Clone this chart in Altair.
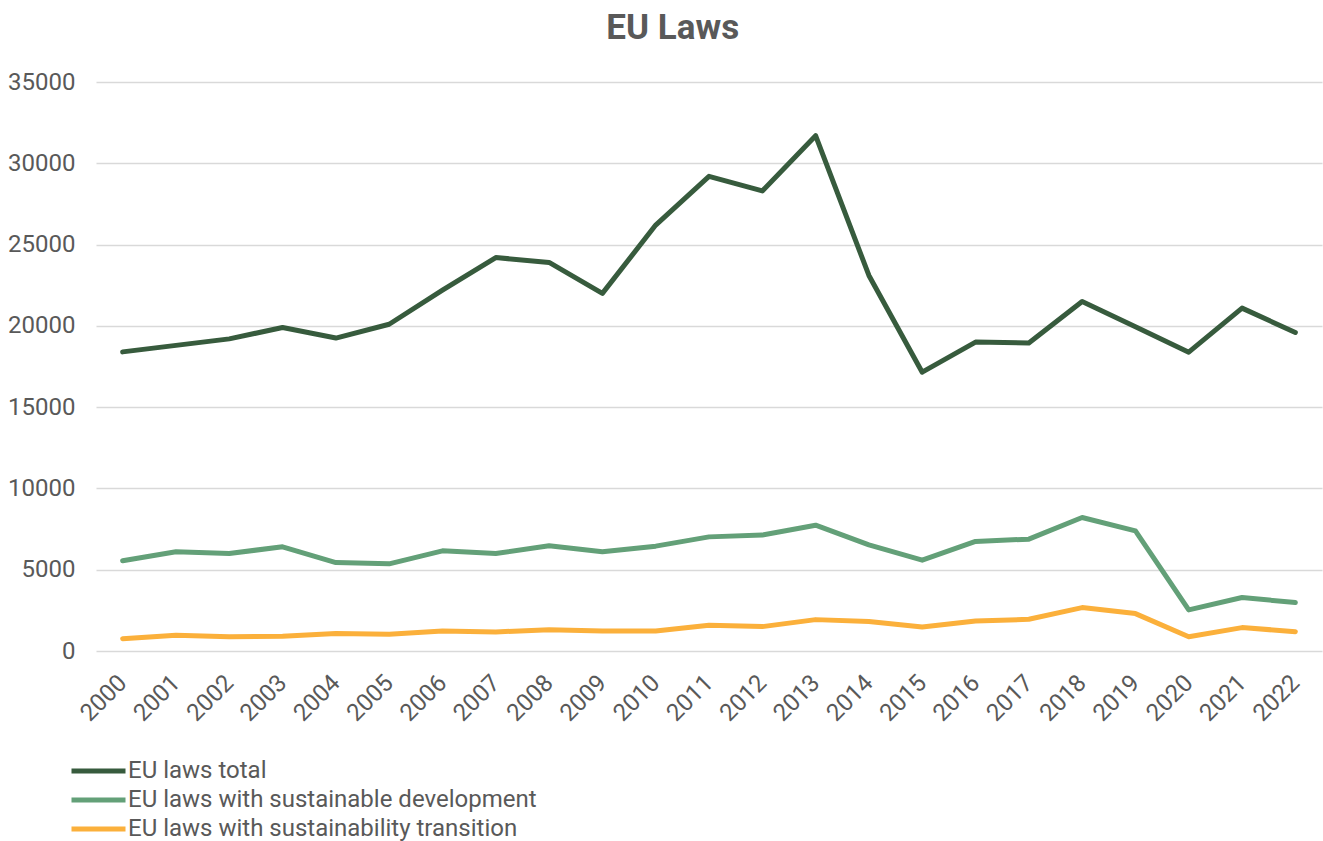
import altair as alt
import pandas as pd

years = [str(y) for y in range(2000, 2023)]
total = [18400, 18800, 19200, 19900, 19250, 20100, 22200, 24200, 23900, 22000,
         26200, 29200, 28300, 31700, 23100, 17150, 19000, 18950, 21500, 19950,
         18380, 21090, 19590]
sust_dev = [5550, 6100, 6000, 6410, 5440, 5360, 6160, 6000, 6470, 6100,
            6450, 7020, 7130, 7740, 6530, 5590, 6740, 6880, 8210, 7390,
            2530, 3290, 2980]
sust_trans = [760, 970, 880, 900, 1070, 1030, 1230, 1170, 1310, 1230,
              1230, 1580, 1500, 1930, 1810, 1480, 1850, 1950, 2670, 2300,
              880, 1440, 1190]
series = ["EU laws total", "EU laws with sustainable development",
          "EU laws with sustainability transition"]
colors = ["#375b3d", "#63a078", "#fbb03b"]

rows = []
for name, vals in zip(series, [total, sust_dev, sust_trans]):
    for y, v in zip(years, vals):
        rows.append({"Year": y, "Value": v, "Series": name})
df = pd.DataFrame(rows)

font = "Roboto"
grey = "#595959"

chart = alt.Chart(df).mark_line(strokeWidth=5, strokeCap="round", strokeJoin="round").encode(
    x=alt.X("Year:N", sort=years, scale=alt.Scale(type="point", padding=0.5),
            axis=alt.Axis(title=None, labelAngle=-45, labelAlign="right", labelBaseline="middle",
                          labelFontSize=24, labelFont=font,
                          labelColor=grey, domain=False, ticks=False, labelPadding=28,
                          grid=False)),
    y=alt.Y("Value:Q", scale=alt.Scale(domain=[0, 35000], nice=False),
            axis=alt.Axis(title=None, values=[0, 5000, 10000, 15000, 20000, 25000, 30000, 35000],
                          format="d",
                          labelFontSize=24, labelFont=font, labelColor=grey,
                          domain=False, ticks=False, labelPadding=21,
                          gridColor="#d9d9d9", gridWidth=1.5)),
    color=alt.Color("Series:N", sort=series,
                    scale=alt.Scale(domain=series, range=colors),
                    legend=alt.Legend(title=None, orient="none", legendX=0, legendY=673,
                                      symbolType="M-3,0H1", symbolStrokeWidth=5,
                                      symbolSize=729, labelFontSize=24, labelFont=font,
                                      labelColor=grey, labelOffset=0, rowPadding=1,
                                      labelLimit=800)),
).properties(
    width=1226, height=569,
    title=alt.Title("EU Laws", fontSize=35, font=font, fontWeight="bold", color=grey,
                    anchor="middle", frame="bounds", offset=24, dx=8),
    padding={"left": 7, "top": 11, "right": 1, "bottom": 0},
).configure_view(stroke=None)

chart.save("out.html", embed_options={"renderer": "svg", "actions": False})
